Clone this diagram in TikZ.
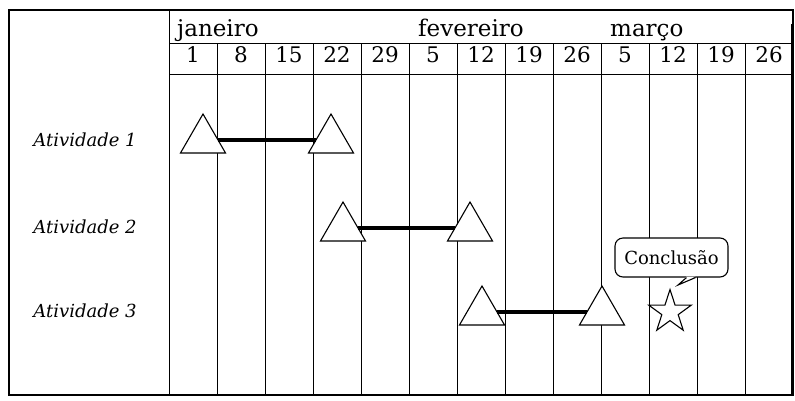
\documentclass[tikz,border=0pt]{standalone}
\usepackage{fontspec}
\setmainfont{DejaVu Serif}
\usetikzlibrary{shapes.geometric}
\begin{document}
\begin{tikzpicture}[x=1pt,y=-1pt,
  grid/.style={line width=0.9pt},
  frame/.style={line width=1.3pt},
  month/.style={inner sep=0pt, anchor=base west, font=\fontsize{23}{27}\selectfont},
  day/.style={inner sep=0pt, anchor=base, font=\fontsize{21.5}{25}\selectfont},
  act/.style={inner sep=0pt, anchor=base, font=\fontsize{18}{22}\selectfont\itshape},
  milestone/.style={draw, fill=white, regular polygon, regular polygon sides=3, minimum size=52pt, inner sep=0pt, outer sep=0pt, line width=1.1pt},
  bar/.style={line width=4.5pt},
  goal/.style={draw, fill=white, star, star points=5, star point ratio=2.618, minimum size=45pt, inner sep=0pt, line width=1.1pt},
  bubble/.style={draw, fill=white, rounded corners=8pt, minimum width=113pt, minimum height=39pt, inner sep=0pt, line width=1.1pt, font=\fontsize{18}{22}\selectfont}]
\useasboundingbox (0,0) rectangle (795,400);
% frame and grid
\draw[frame] (9,10) rectangle (793,395);
\draw[line width=2.6pt] (792,24) -- (792,395);
\draw[grid] (169,10) -- (169,395);
\draw[grid] (169,43) -- (793,43);
\draw[grid] (169,74) -- (793,74);
\foreach \k in {1,...,12} {
  \draw[grid] (169+48*\k,43) -- (169+48*\k,395);
}
% months
\node[month] (jan) at (177,36) {janeiro};
\node[month] (fev) at (418,36) {fevereiro};
\node[month] (mar) at (610,36) {março};
% days
\foreach \d [count=\i from 0] in {1,8,15,22,29,5,12,19,26,5,12,19,26} {
  \node[day] (d\i) at (193+48*\i,62) {\d};
}
% activity labels
\node[act] (a1) at (85,146) {Atividade 1};
\node[act] (a2) at (85,233) {Atividade 2};
\node[act] (a3) at (85,317) {Atividade 3};
% milestones
\node[milestone] (t1a) at (203,140) {};
\node[milestone] (t1b) at (331,140) {};
\node[milestone] (t2a) at (343,228) {};
\node[milestone] (t2b) at (470,228) {};
\node[milestone] (t3a) at (482,312) {};
\node[milestone] (t3b) at (602,312) {};
\draw[bar] (t1a.east) -- (t1b.west);
\draw[bar] (t2a.east) -- (t2b.west);
\draw[bar] (t3a.east) -- (t3b.west);
% conclusion
\node[goal] (st) at (670,312) {};
\node[bubble] (call) at (671.5,257.5) {Conclusão};
\coordinate (tip) at (678,285);
\fill[white] ([xshift=15pt,yshift=1pt]call.south) -- (tip) -- ([xshift=24pt,yshift=1pt]call.south) -- cycle;
\draw[line width=1.1pt] ([xshift=15pt]call.south) -- (tip) -- ([xshift=24pt]call.south);
\end{tikzpicture}
\end{document}
